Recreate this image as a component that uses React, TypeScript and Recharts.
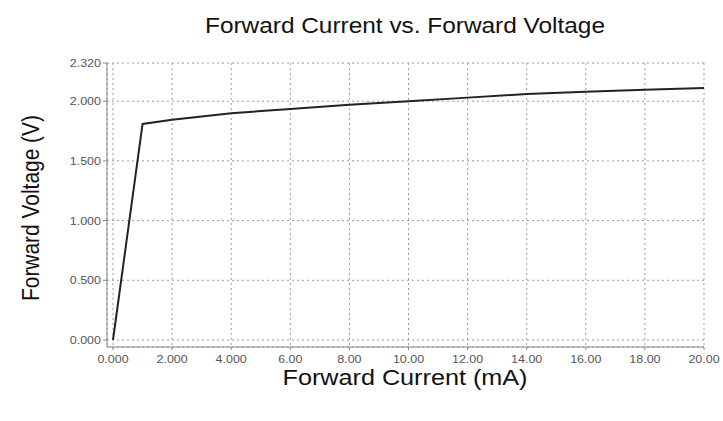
import React from 'react';
import { LineChart, Line, XAxis, YAxis, CartesianGrid } from 'recharts';

const currents = [0, 1, 2, 4, 6, 8, 10, 12, 14, 16, 18, 20];
const voltages = [0, 1.81, 1.845, 1.9, 1.935, 1.97, 2.0, 2.03, 2.06, 2.08, 2.095, 2.11];

const xTicks = [0, 2, 4, 6, 8, 10, 12, 14, 16, 18, 20];
const xTickLabels = ['0.000', '2.000', '4.000', '6.00', '8.00', '10.00', '12.00', '14.00', '16.00', '18.00', '20.00'];
const yTicks = [0, 0.5, 1, 1.5, 2, 2.32];
const yTickLabels = ['0.000', '0.500', '1.000', '1.500', '2.000', '2.320'];

const data = currents.map((c, i) => ({ current: c, voltage: voltages[i] }));

const font = '"Liberation Sans", Arial, sans-serif';

// tick text in the picture is wider than plain Arial, so it gets stretched a bit
const XTick = ({ x, y, payload }: any) => (
  <g transform={`translate(${x},${y})`}>
    <text x={0} y={0} dy={11} textAnchor="middle" transform="scale(1.25,1)" fontSize={10} fontFamily={font} fill="#555555">
      {xTickLabels[xTicks.indexOf(payload.value)]}
    </text>
  </g>
);

const YTick = ({ x, y, payload }: any) => (
  <g transform={`translate(${x},${y})`}>
    <text x={0} y={0} dy={4} textAnchor="end" transform="scale(1.25,1)" fontSize={10} fontFamily={font} fill="#555555">
      {yTickLabels[yTicks.indexOf(payload.value)]}
    </text>
  </g>
);

const App: React.FC = () => {
  return (
    <div style={{ position: 'absolute', left: 0, top: 0, width: 723, height: 421, background: '#ffffff' }}>
      <LineChart
        width={723}
        height={421}
        data={data}
        margin={{ top: 63, right: 19, bottom: 54, left: 57 }}
      >
        <CartesianGrid stroke="#9a9a9a" strokeDasharray="2 3" fill="#fffffd" />
        <XAxis
          dataKey="current"
          type="number"
          domain={[0, 20]}
          ticks={xTicks}
          tick={<XTick />}
          padding={{ left: 6, right: 0 }}
          stroke="#888888"
          tickSize={3}
          height={20}
          interval={0}
        />
        <YAxis
          type="number"
          domain={[0, 2.32]}
          ticks={yTicks}
          tick={<YTick />}
          padding={{ top: 0, bottom: 7 }}
          stroke="#888888"
          tickSize={4}
          width={50}
          interval={0}
        />
        <Line
          dataKey="voltage"
          type="linear"
          stroke="#222222"
          strokeWidth={2}
          dot={false}
          isAnimationActive={false}
        />
      </LineChart>
      <svg width={723} height={421} style={{ position: 'absolute', left: 0, top: 0, pointerEvents: 'none' }}>
        <text x={405} y={33} textAnchor="middle" fontSize={22} fontFamily={font} fill="#111111" textLength={400} lengthAdjust="spacingAndGlyphs">
          Forward Current vs. Forward Voltage
        </text>
        <text x={405} y={385} textAnchor="middle" fontSize={22} fontFamily={font} fill="#111111" textLength={245} lengthAdjust="spacingAndGlyphs">
          Forward Current (mA)
        </text>
        <text
          x={0}
          y={0}
          transform="translate(39 208) rotate(-90)"
          textAnchor="middle"
          fontSize={23}
          fontFamily={font}
          fill="#111111"
          textLength={186}
          lengthAdjust="spacingAndGlyphs"
        >
          Forward Voltage (V)
        </text>
      </svg>
    </div>
  );
};

export default App;
